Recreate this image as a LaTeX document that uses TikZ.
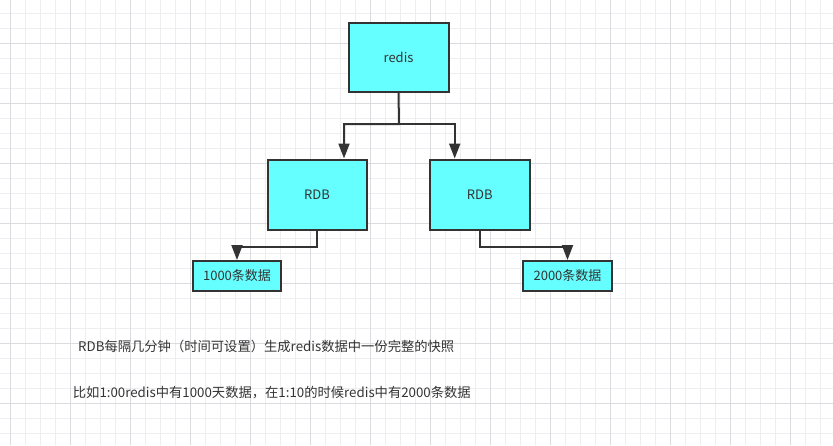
\documentclass[tikz,border=0pt]{standalone}
\usepackage{fontspec}
\setmainfont{Noto Sans CJK SC}
\usetikzlibrary{arrows.meta}
\definecolor{boxcyan}{RGB}{102,255,255}
\definecolor{inkgray}{RGB}{51,51,51}
\definecolor{gridminor}{RGB}{238,238,240}
\definecolor{gridmajor}{RGB}{220,220,224}

\begin{document}
\begin{tikzpicture}[x=1pt,y=-1pt,
    box/.style={draw=inkgray,line width=2pt,fill=boxcyan,text=inkgray,
      font=\fontsize{13}{15}\selectfont,inner sep=0pt},
    link/.style={draw=inkgray,line width=2pt,
      -{Triangle[width=11pt,length=15pt]}},
    note/.style={anchor=west,text=inkgray,inner sep=0pt,
      font=\fontsize{13.3}{15}\selectfont}]
  \useasboundingbox (0,0) rectangle (833,445);
  % background grid, light lines every 15, darker every 60
  \begin{scope}[shift={(10,13)}]
    \draw[gridminor,line width=0.8pt,step=15pt] (-10,-13) grid (823,432);
  \end{scope}
  \begin{scope}[shift={(10,43)}]
    \draw[gridmajor,line width=0.8pt,step=60pt] (-10,-43) grid (823,402);
  \end{scope}
  % top node and the two snapshots
  \node[box,minimum width=100pt,minimum height=69pt] (redis) at (398.5,57) {redis};
  \node[box,minimum width=99pt,minimum height=70pt] (rdbL) at (317,194.5) {RDB};
  \node[box,minimum width=100pt,minimum height=70pt] (rdbR) at (479.7,194.5) {RDB};
  % data boxes
  \node[box,minimum width=88pt,minimum height=30pt] (d1000) at (237,276) {1000条数据};
  \node[box,minimum width=89pt,minimum height=30pt] (d2000) at (567.5,276) {2000条数据};
  % connectors
  \coordinate (fork) at (399,124);
  \draw[link] (redis.south) -- (fork) -| ([xshift=27pt]rdbL.north);
  \draw[link] (fork) -| ([xshift=-25pt]rdbR.north);
  \draw[link] (rdbL.south) -- ++(0,16) -| (d1000.north);
  \draw[link] (rdbR.south) -- ++(0,16) -| (d2000.north);
  % notes below
  \node[note] (note1) at (78,346) {RDB每隔几分钟（时间可设置）生成redis数据中一份完整的快照};
  \node[note] (note2) at (72.7,393) {比如1:00redis中有1000天数据，在1:10的时候redis中有2000条数据};
\end{tikzpicture}
\end{document}
